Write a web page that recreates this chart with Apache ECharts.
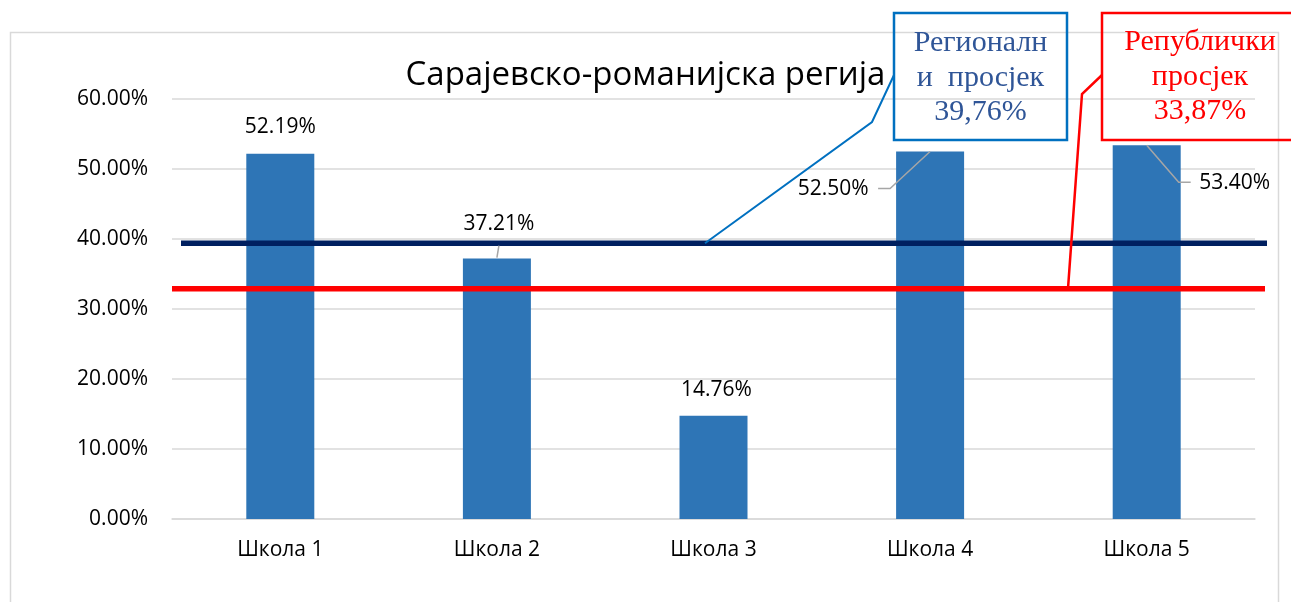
<!DOCTYPE html>
<html>
<head>
<meta charset="utf-8">
<script src="https://cdn.jsdelivr.net/npm/echarts@6/dist/echarts.min.js"></script>
<style>
  html, body { margin: 0; padding: 0; background: #fff; }
  #main { width: 1291px; height: 602px; }
</style>
</head>
<body>
<div id="main"></div>
<script>
var chartTitle = 'Сарајевско-романијска регија';
var categories = ['Школа 1', 'Школа 2', 'Школа 3', 'Школа 4', 'Школа 5'];
var values = [52.19, 37.21, 14.76, 52.50, 53.40];
// level lines as drawn in the picture, and the text written in their callouts
var avgLevels = [39.4, 32.9];
var avgTexts = ['Регионалн\nи  просјек\n39,76%', 'Републички\nпросјек\n33,87%'];

var font = 'Open Sans';
var myChart = echarts.init(document.getElementById('main'));

// where each value label sits, relative to its bar's top-left corner
var labelSpots = [[34, -27], [36, -35], [37, -26], [-63, 38], [122, 38]];

var option = {
    animation: false,
    title: {
        text: chartTitle,
        left: 'center',
        top: 54,
        textStyle: { fontFamily: font, fontSize: 33, fontWeight: 'normal', color: '#000' }
    },
    grid: { left: 172, right: 36, top: 99, bottom: 83 },
    xAxis: {
        type: 'category',
        data: categories,
        axisLine: { lineStyle: { color: '#d9d9d9', width: 1.5 } },
        axisTick: { show: false },
        axisLabel: { color: '#000', fontFamily: font, fontSize: 21, margin: 21 }
    },
    yAxis: {
        type: 'value',
        min: 0,
        max: 60,
        interval: 10,
        axisLine: { show: false },
        axisTick: { show: false },
        axisLabel: {
            color: '#000', fontFamily: font, fontSize: 21, margin: 24,
            formatter: function (v) { return v.toFixed(2) + '%'; }
        },
        splitLine: { lineStyle: { color: '#d9d9d9', width: 1.5 } }
    },
    series: [{
        type: 'bar',
        barWidth: 68,
        itemStyle: { color: '#2E75B6' },
        label: {
            show: true,
            color: '#000',
            fontFamily: font,
            fontSize: 21,
            align: 'center',
            verticalAlign: 'middle',
            formatter: function (p) { return p.value.toFixed(2) + '%'; }
        },
        data: values.map(function (v, i) {
            return { value: v, label: { position: labelSpots[i] } };
        })
    }]
};

myChart.setOption(option);

// pixel positions from the chart's own scales
var levelY = avgLevels.map(function (v) { return myChart.convertToPixel({ yAxisIndex: 0 }, v); });
var tops = values.map(function (v, i) { return myChart.convertToPixel({ seriesIndex: 0 }, [i, v]); });

function poly(points, color, width) {
    return { type: 'polyline', z: 20, shape: { points: points },
        style: { stroke: color, lineWidth: width, fill: null } };
}
function rel(p, dx, dy) { return [p[0] + dx, p[1] + dy]; }

var grey = '#A6A6A6';
var graphics = [
    { type: 'rect', z: -1, shape: { x: 10.5, y: 32.5, width: 1268, height: 600 },
      style: { stroke: '#d9d9d9', lineWidth: 1.5, fill: null } },
    // regional and republic lines
    { type: 'line', z: 15, shape: { x1: 181, y1: levelY[0], x2: 1267, y2: levelY[0] },
      style: { stroke: '#002060', lineWidth: 5.5 } },
    { type: 'line', z: 15, shape: { x1: 172, y1: levelY[1], x2: 1265, y2: levelY[1] },
      style: { stroke: '#FF0000', lineWidth: 5.5 } },
    // callout boxes
    { type: 'rect', z: 20, shape: { x: 894, y: 13, width: 173, height: 127 },
      style: { stroke: '#0070C0', lineWidth: 2.5, fill: null } },
    { type: 'text', z: 21, x: 980.5, y: 78,
      style: { text: avgTexts[0], fill: '#2F5597', font: '30px "Liberation Serif"',
               align: 'center', verticalAlign: 'middle', lineHeight: 34.5 } },
    { type: 'rect', z: 20, shape: { x: 1102, y: 13, width: 200, height: 127 },
      style: { stroke: '#FF0000', lineWidth: 2.5, fill: null } },
    { type: 'text', z: 21, x: 1200, y: 77,
      style: { text: avgTexts[1], fill: '#FF0000', font: '30px "Liberation Serif"',
               align: 'center', verticalAlign: 'middle', lineHeight: 34.5 } },
    // callout pointers
    poly([[894, 75], [872, 122], [705, levelY[0]]], '#0070C0', 2),
    poly([[1102, 75], [1082, 94], [1068, levelY[1]]], '#FF0000', 2.5),
    // value label leaders
    poly([rel(tops[1], 2, -13), rel(tops[1], 0, -1)], grey, 1.5),
    poly([rel(tops[3], -52, 37), rel(tops[3], -40, 37), tops[3]], grey, 1.5),
    poly([tops[4], rel(tops[4], 32, 37), rel(tops[4], 44, 37)], grey, 1.5)
];

myChart.setOption({ graphic: graphics });
</script>
</body>
</html>
